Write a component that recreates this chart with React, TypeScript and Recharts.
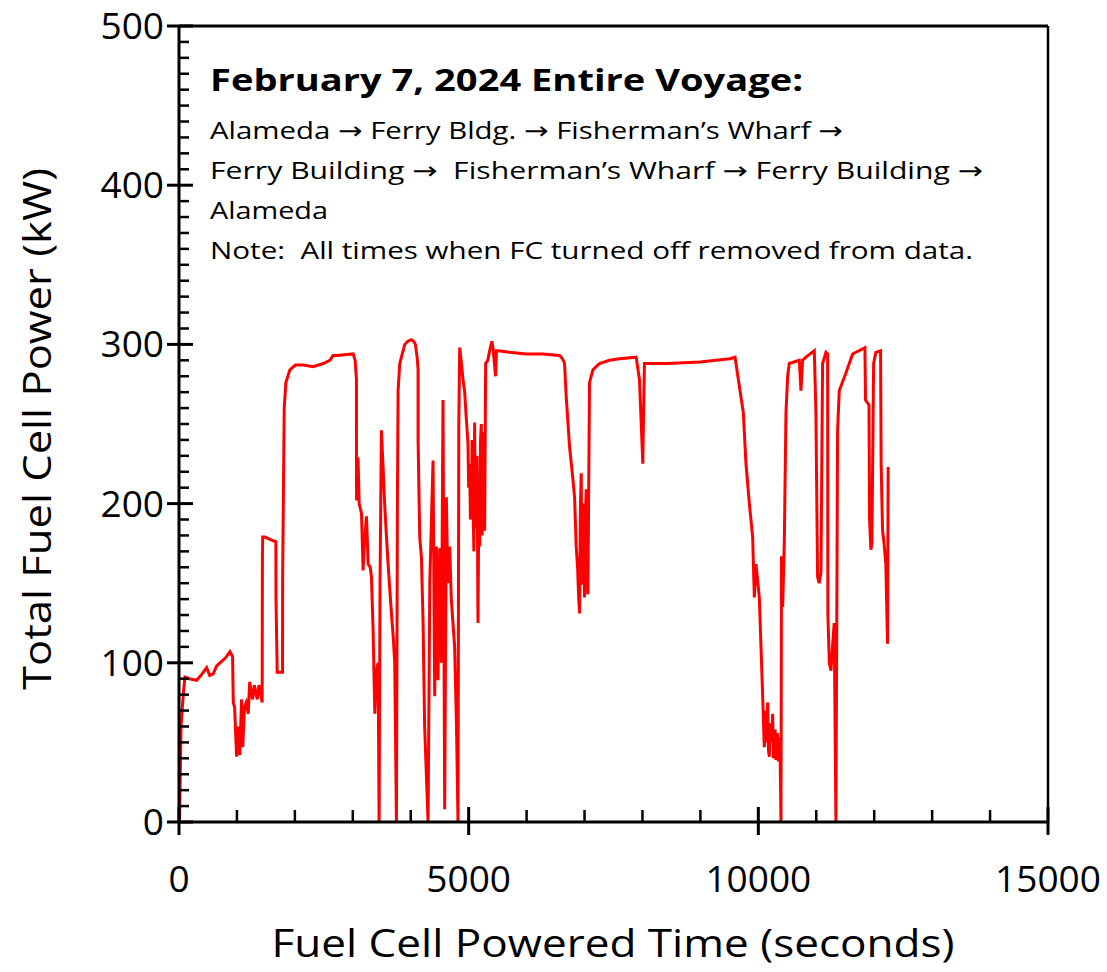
import { Line, LineChart, ReferenceLine, XAxis, YAxis } from 'recharts'

const FONT = "'Open Sans', 'DejaVu Sans', sans-serif"

// seconds of fuel-cell powered time
const timeSec = [
  0, 10, 35, 75, 103, 180, 305, 400, 477, 530, 590, 650, 707, 800, 880, 925, 937, 960, 994, 1020,
  1050, 1080, 1100, 1130, 1160, 1195, 1220, 1270, 1300, 1350, 1380, 1436, 1438, 1440, 1445, 1483, 1600, 1672, 1674, 1695,
  1787, 1789, 1816, 1845, 1914, 2010, 2150, 2316, 2490, 2603, 2660, 2719, 3006, 3040, 3063, 3063, 3065, 3090, 3110, 3150,
  3178, 3200, 3236, 3265, 3300, 3322, 3350, 3380, 3410, 3437, 3454, 3470, 3494, 3520, 3552, 3580, 3609, 3640, 3667, 3700,
  3724, 3753, 3770, 3782, 3810, 3897, 3950, 4011, 4050, 4080, 4110, 4127, 4127, 4155, 4185, 4213, 4240, 4299, 4330, 4385,
  4414, 4443, 4471, 4500, 4530, 4557, 4586, 4615, 4640, 4672, 4700, 4758, 4790, 4816, 4830, 4845, 4870, 4902, 4931, 4960,
  4988, 5000, 5017, 5030, 5046, 5060, 5075, 5090, 5103, 5115, 5130, 5145, 5161, 5175, 5190, 5205, 5218, 5232, 5247, 5262,
  5276, 5293, 5330, 5362, 5400, 5420, 5465, 5480, 5506, 5707, 5994, 6282, 6569, 6620, 6655, 6684, 6741, 6800, 6828, 6856,
  6880, 6900, 6914, 6930, 6943, 6955, 6970, 6985, 7000, 7015, 7029, 7044, 7058, 7086, 7144, 7259, 7431, 7603, 7891, 7948,
  8006, 8020, 8034, 8420, 8994, 9511, 9598, 9655, 9741, 9787, 9845, 9902, 9931, 9960, 10017, 10046, 10075, 10103, 10120, 10130,
  10145, 10161, 10175, 10190, 10205, 10220, 10235, 10247, 10260, 10270, 10290, 10305, 10320, 10330, 10345, 10362, 10375, 10391, 10400, 10420,
  10448, 10477, 10506, 10534, 10707, 10736, 10764, 10822, 10966, 10994, 11023, 11050, 11081, 11109, 11167, 11196, 11200, 11225, 11253, 11280,
  11310, 11339, 11368, 11397, 11512, 11627, 11840, 11850, 11910, 11920, 11943, 11960, 11990, 12029, 12110, 12120, 12144, 12170, 12201, 12230,
  12241,
]

// total fuel cell power, kW
const powerKw = [
  0, 2, 60, 81, 91, 90, 89, 93, 97, 92, 93, 98, 100, 103, 107, 104, 75, 72, 41, 60,
  42, 77, 47, 72, 75, 68, 88, 77, 86, 77, 86, 75, 133, 167, 179, 179, 177, 176, 141, 94,
  94, 154, 260, 276, 284, 287, 287, 286, 288, 290, 293, 293, 294, 290, 278, 250, 202, 229, 200, 194,
  158, 175, 192, 162, 160, 154, 121, 68, 95, 100, 0, 150, 246, 225, 198, 180, 162, 145, 131, 115,
  100, 0, 200, 271, 288, 300, 302, 303, 302, 300, 292, 284, 240, 179, 166, 125, 60, 0, 152, 227,
  79, 173, 89, 172, 100, 265, 8, 204, 150, 173, 140, 110, 60, 0, 250, 298, 290, 278, 270, 253,
  238, 210, 225, 190, 196, 240, 200, 170, 251, 190, 185, 230, 125, 200, 173, 240, 250, 180, 200, 245,
  183, 288, 290, 296, 302, 298, 280, 296, 296, 295, 294, 294, 293, 291, 288, 267, 236, 215, 204, 173,
  160, 140, 131, 200, 219, 150, 150, 200, 141, 190, 209, 150, 143, 276, 284, 288, 290, 291, 292, 278,
  225, 260, 288, 288, 289, 291, 292, 278, 257, 225, 200, 179, 141, 162, 141, 110, 79, 47, 65, 70,
  50, 75, 45, 41, 62, 60, 50, 68, 40, 45, 58, 39, 55, 55, 38, 53, 45, 0, 167, 135,
  175, 257, 280, 288, 290, 271, 290, 292, 296, 257, 154, 150, 157, 288, 295, 294, 131, 100, 95, 110,
  125, 0, 246, 271, 282, 294, 298, 265, 262, 190, 171, 175, 288, 295, 296, 225, 183, 175, 162, 112,
  223,
]

const xTicks = Array.from({ length: 16 }, (_, i) => i * 1000)
const yTicks = Array.from({ length: 51 }, (_, i) => i * 10)
const xMajor = [0, 5000, 10000, 15000]
const yMajor = [0, 100, 200, 300, 400, 500]

const noteTitle = 'February 7, 2024 Entire Voyage:'
const noteLines = [
  { text: 'Alameda \u2192 Ferry Bldg. \u2192 Fisherman\u2019s Wharf \u2192', y: 139, w: 633 },
  { text: 'Ferry Building \u2192  Fisherman\u2019s Wharf \u2192 Ferry Building \u2192', y: 179, w: 773 },
  { text: 'Alameda', y: 219, w: 118 },
  { text: 'Note:  All times when FC turned off removed from data.', y: 259, w: 763 },
]

const data = timeSec.map((t, i) => ({ t, kw: powerKw[i] }))

function YTick({ x, y, payload }: any) {
  const major = yMajor.includes(payload.value)
  return (
    <g>
      <line x1={major ? x - 12 : x} x2={x + (major ? 14 : 10)} y1={y} y2={y} stroke="#000" strokeWidth={major ? 3 : 2.5} />
      {major && (
        <text x={x - 15} y={y + 13} textAnchor="end" fontSize={37} fontFamily={FONT} fill="#000">
          {payload.value}
        </text>
      )}
    </g>
  )
}

function XTick({ x, y, payload }: any) {
  const major = xMajor.includes(payload.value)
  return (
    <g>
      <line x1={x} x2={x} y1={y - (major ? 15 : 12)} y2={y + (major ? 13 : 0)} stroke="#000" strokeWidth={major ? 3 : 2.5} />
      {major && (
        <text x={x} y={y + 70} textAnchor="middle" fontSize={37} fontFamily={FONT} fill="#000">
          {payload.value}
        </text>
      )}
    </g>
  )
}

export default function App() {
  return (
    <div style={{ position: 'absolute', left: 0, top: 0, width: 1107, height: 972, background: '#fff' }}>
      <LineChart width={1107} height={972} data={data} margin={{ top: 26, right: 59, bottom: 0, left: 0 }}>
        <XAxis
          dataKey="t"
          type="number"
          domain={[0, 15000]}
          ticks={xTicks}
          interval={0}
          height={150}
          tickSize={0}
          tickMargin={0}
          axisLine={{ stroke: '#000', strokeWidth: 3 }}
          tick={<XTick />}
        />
        <YAxis
          type="number"
          domain={[0, 500]}
          ticks={yTicks}
          interval={0}
          width={179}
          tickSize={0}
          tickMargin={0}
          axisLine={{ stroke: '#000', strokeWidth: 3 }}
          tick={<YTick />}
        />
        <ReferenceLine y={500} stroke="#000" strokeWidth={3} />
        <ReferenceLine x={15000} stroke="#000" strokeWidth={2.5} />
        <Line
          dataKey="kw"
          type="linear"
          stroke="#ff0000"
          strokeWidth={3}
          dot={false}
          isAnimationActive={false}
        />
      </LineChart>
      <svg width={1107} height={972} style={{ position: 'absolute', left: 0, top: 0, pointerEvents: 'none' }}>
        <text x={210} y={91} fontSize={30} fontWeight={700} fontFamily={FONT} textLength={593} lengthAdjust="spacingAndGlyphs" fill="#000">
          {noteTitle}
        </text>
        {noteLines.map((l) => (
          <text
            key={l.y}
            x={210}
            y={l.y}
            fontSize={24}
            fontFamily={FONT}
            textLength={l.w}
            lengthAdjust="spacingAndGlyphs"
            fill="#000"
            style={{ whiteSpace: 'pre' }}
          >
            {l.text}
          </text>
        ))}
        <text x={613} y={957} textAnchor="middle" fontSize={39} fontFamily={FONT} textLength={683} lengthAdjust="spacingAndGlyphs" fill="#000">
          Fuel Cell Powered Time (seconds)
        </text>
        <text
          x={0}
          y={0}
          transform="translate(51, 429) rotate(-90)"
          textAnchor="middle"
          fontSize={39}
          fontFamily={FONT}
          textLength={522}
          lengthAdjust="spacingAndGlyphs"
          fill="#000"
        >
          Total Fuel Cell Power (kW)
        </text>
      </svg>
    </div>
  )
}
